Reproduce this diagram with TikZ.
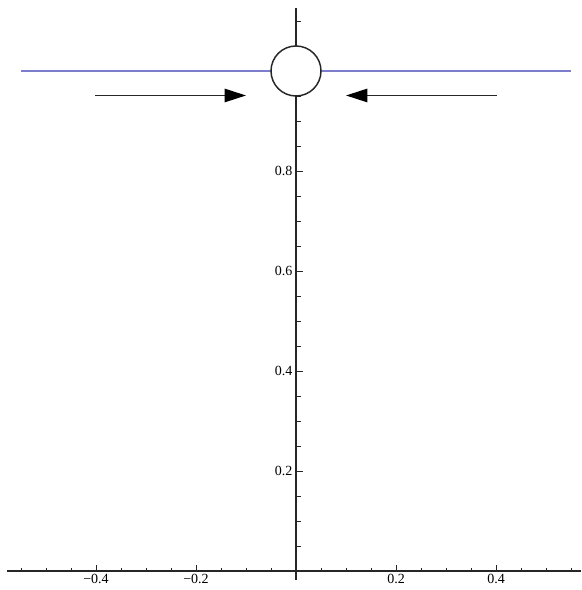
\documentclass[tikz,border=0pt]{standalone}
\usepackage{fontspec}
\setmainfont{Liberation Serif}
\usetikzlibrary{arrows.meta}
\definecolor{lineblue}{RGB}{125,125,205}
\tikzset{
  axis/.style={line width=0.8pt, black!85},
  tickmark/.style={line width=0.7pt, black!85},
  ticklabel/.style={font=\fontsize{10.5}{11}\selectfont, inner sep=1pt},
  pushline/.style={line width=1.3pt, black!85, -{Triangle[length=16pt,width=10pt,fill=black,color=black]}},
  ballstyle/.style={circle, draw=black!85, line width=1.1pt, fill=white, minimum size=0.1*375pt, inner sep=0pt},
  level/.style={line width=0.9pt, lineblue}
}
\begin{document}
\begin{tikzpicture}[x=375pt,y=375pt]
\useasboundingbox (-0.592,-0.038) rectangle (0.57,1.142);
% axes
\coordinate (xl) at (-0.578,0);
\coordinate (xr) at (0.57,0);
\coordinate (yb) at (0,-0.018);
\coordinate (yt) at (0,1.126);
\draw[axis] (xl) -- (xr);
\draw[axis] (yb) -- (yt);
% x ticks
\foreach \t in {-0.55,-0.5,-0.45,-0.35,-0.3,-0.25,-0.15,-0.1,-0.05,0.05,0.1,0.15,0.25,0.3,0.35,0.45,0.5,0.55}
  \draw[tickmark] (\t,0) -- ++(0,0.006);
\foreach \t in {-0.4,-0.2,0.2,0.4}
  \draw[tickmark] (\t,0) -- ++(0,0.012);
\foreach \t/\s in {-0.4/−0.4,-0.2/−0.2,0.2/0.2,0.4/0.4}
  \node[ticklabel, anchor=north] (xlab\t) at (\t,-0.004) {\s};
% y ticks
\foreach \t in {0.05,0.1,0.15,0.25,0.3,0.35,0.45,0.5,0.55,0.65,0.7,0.75,0.85,0.9,0.95,1.0,1.05,1.1}
  \draw[tickmark] (0,\t) -- ++(0.009,0);
\foreach \t in {0.2,0.4,0.6,0.8}
  \draw[tickmark] (0,\t) -- ++(0.014,0);
\foreach \t in {0.2,0.4,0.6,0.8}
  \node[ticklabel, anchor=east] (ylab\t) at (-0.004,\t) {\t};
% level line
\coordinate (ll) at (-0.55,1);
\coordinate (lr) at (0.55,1);
\draw[level] (ll) -- (lr);
% ball
\node[ballstyle] (ball) at (0,1) {};
% arrows
\coordinate (a1s) at (-0.402,0.951);
\coordinate (a1e) at (-0.1,0.951);
\coordinate (a2s) at (0.402,0.951);
\coordinate (a2e) at (0.1,0.951);
\draw[pushline] (a1s) -- (a1e);
\draw[pushline] (a2s) -- (a2e);
\end{tikzpicture}
\end{document}
